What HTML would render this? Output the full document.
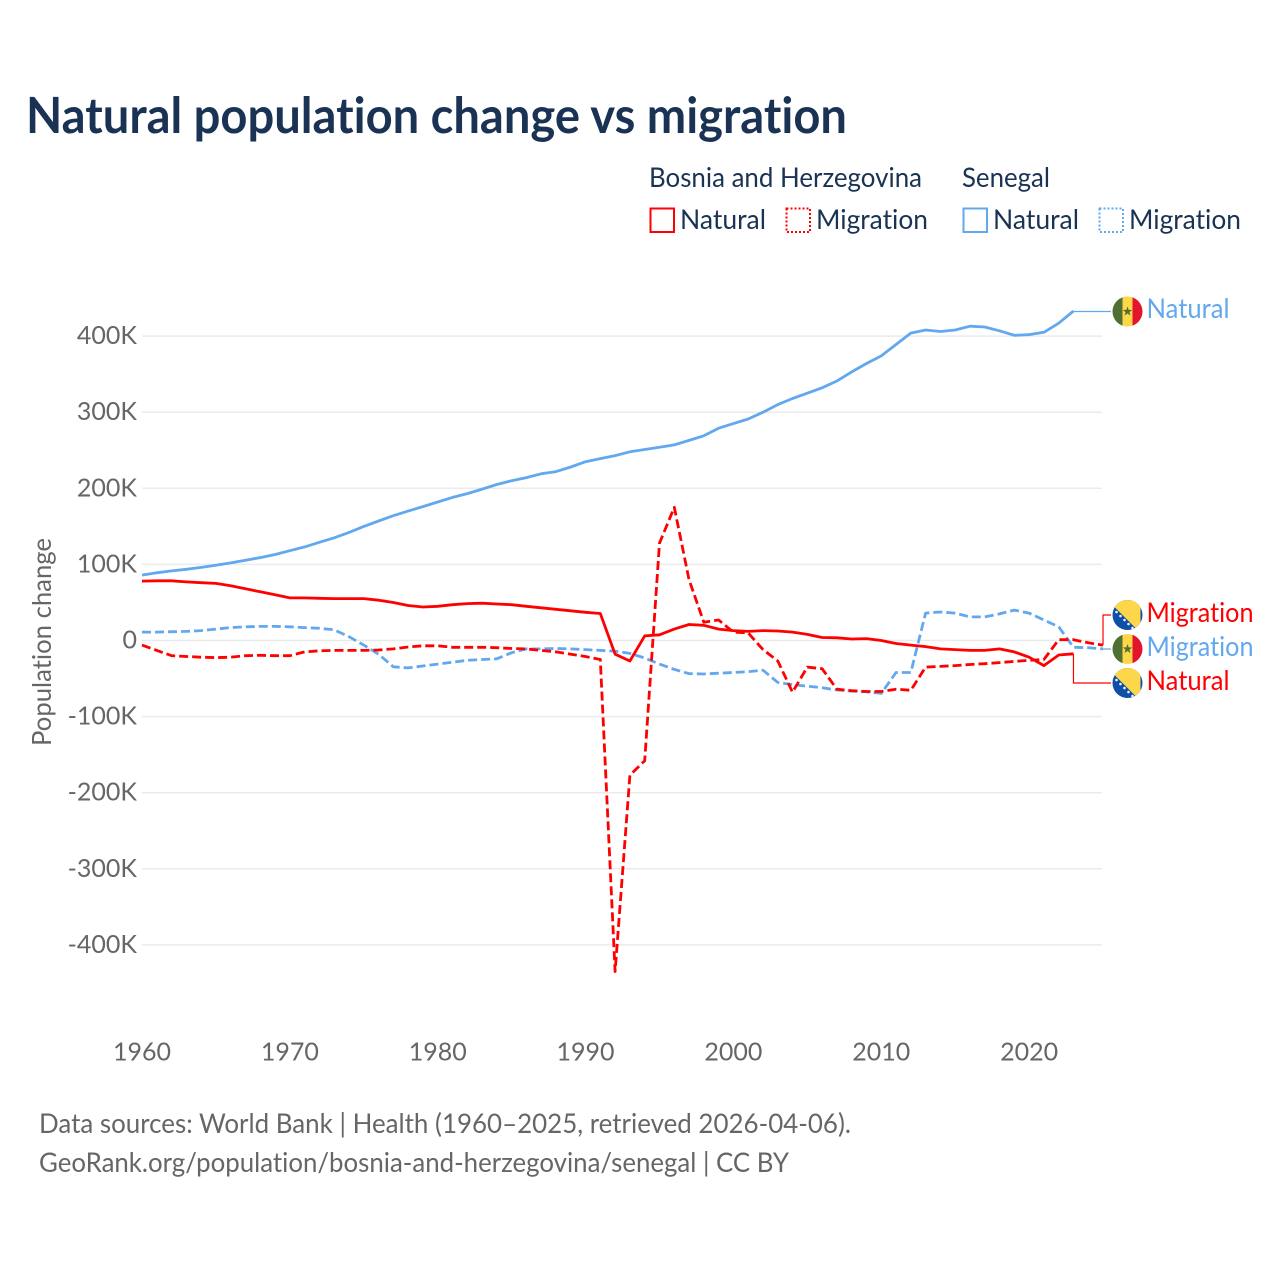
<!DOCTYPE html>
<html lang="en">
<head>
<meta charset="utf-8">
<title>Natural population change vs migration</title>
<style>
html,body{margin:0;padding:0;background:#fff;width:1280px;height:1280px;overflow:hidden}
svg{display:block}
text{font-family:"Lato","Carlito","Liberation Sans",sans-serif;font-variant-ligatures:none}
</style>
</head>
<body>
<svg id="chart" width="1280" height="1280" viewBox="0 0 1280 1280" xmlns="http://www.w3.org/2000/svg">
  <defs>
    <clipPath id="flag-clip"><circle cx="0" cy="0" r="15"/></clipPath>
    <g id="flag-sn" clip-path="url(#flag-clip)">
      <rect x="-15" y="-15" width="10" height="30" fill="#4f7030"/>
      <rect x="-5" y="-15" width="10" height="30" fill="#fdd64a"/>
      <rect x="5" y="-15" width="10" height="30" fill="#e3142d"/>
      <polygon points="0,-5 1.2,-1.6 4.8,-1.5 1.9,0.6 3,4 0,2 -3,4 -1.9,0.6 -4.8,-1.5 -1.2,-1.6" fill="#4f7030"/>
    </g>
    <g id="flag-ba" clip-path="url(#flag-clip)">
      <rect x="-15" y="-15" width="30" height="30" fill="#0f4fa8"/>
      <polygon points="-20,-15 13,-15 13,18" fill="#fdd64a"/>
      <g fill="#f2f2f2">
        <circle cx="-11" cy="-3" r="1.3"/><circle cx="-7" cy="1" r="1.3"/><circle cx="-3" cy="5" r="1.3"/>
        <circle cx="1" cy="9" r="1.3"/><circle cx="5" cy="13" r="1.3"/>
      </g>
    </g>
  </defs>

  <text x="26" y="133" font-size="49.5" font-weight="700" fill="#1a3354" textLength="821" lengthAdjust="spacingAndGlyphs">Natural population change vs migration</text>

  <g fill="#1a3354">
    <text x="649" y="187" font-size="27.5" fill="#1a3354" textLength="273" lengthAdjust="spacingAndGlyphs">Bosnia and Herzegovina</text>
    <text x="962" y="187" font-size="27.5" fill="#1a3354" textLength="88" lengthAdjust="spacingAndGlyphs">Senegal</text>

    <rect x="650.5" y="208.5" width="23.5" height="23.5" fill="none" stroke="#ff0000" stroke-width="2"/>
    <text x="680" y="229" font-size="27.5" fill="#1a3354" textLength="86" lengthAdjust="spacingAndGlyphs">Natural</text>
    <rect x="786.5" y="208.5" width="23.5" height="23.5" fill="none" stroke="#ff0000" stroke-width="2" stroke-dasharray="2 2"/>
    <text x="816" y="229" font-size="27.5" fill="#1a3354" textLength="112" lengthAdjust="spacingAndGlyphs">Migration</text>

    <rect x="963.5" y="208.5" width="23.5" height="23.5" fill="none" stroke="#62a8ee" stroke-width="2"/>
    <text x="993" y="229" font-size="27.5" fill="#1a3354" textLength="86" lengthAdjust="spacingAndGlyphs">Natural</text>
    <rect x="1099.5" y="208.5" width="23.5" height="23.5" fill="none" stroke="#62a8ee" stroke-width="2" stroke-dasharray="2 2"/>
    <text x="1129" y="229" font-size="27.5" fill="#1a3354" textLength="112" lengthAdjust="spacingAndGlyphs">Migration</text>
  </g>

  <g id="grid"></g>
  <g id="y-ticks"></g>
  <g id="x-ticks"></g>
  <text transform="translate(51,642) rotate(-90)" text-anchor="middle" font-size="26" fill="#666666" textLength="208" lengthAdjust="spacingAndGlyphs">Population change</text>

  <g id="connectors"></g>
  <g id="series"></g>

  <g>
    <use href="#flag-sn" x="1127.5" y="311.5"/>
    <text x="1146.5" y="318" font-size="27.5" fill="#62a8ee" textLength="83" lengthAdjust="spacingAndGlyphs">Natural</text>
    <use href="#flag-ba" x="1127.5" y="615"/>
    <text x="1146.5" y="622" font-size="27.5" fill="#ff0000" textLength="107" lengthAdjust="spacingAndGlyphs">Migration</text>
    <use href="#flag-sn" x="1127.5" y="649"/>
    <text x="1146.5" y="656" font-size="27.5" fill="#62a8ee" textLength="107" lengthAdjust="spacingAndGlyphs">Migration</text>
    <use href="#flag-ba" x="1127.5" y="683"/>
    <text x="1146.5" y="690" font-size="27.5" fill="#ff0000" textLength="83" lengthAdjust="spacingAndGlyphs">Natural</text>
  </g>

  <text x="39" y="1133" font-size="27.5" fill="#666666" textLength="812" lengthAdjust="spacingAndGlyphs">Data sources: World Bank | Health (1960–2025, retrieved 2026-04-06).</text>
  <text x="39" y="1172" font-size="27.5" fill="#666666" textLength="750" lengthAdjust="spacingAndGlyphs">GeoRank.org/population/bosnia-and-herzegovina/senegal | CC BY</text>
</svg>

<script>
const startYear = 1960;
const xTickYears = [1960, 1970, 1980, 1990, 2000, 2010, 2020];
const yTickValues = [400, 300, 200, 100, 0, -100, -200, -300, -400];
const yTickLabels = ["400K", "300K", "200K", "100K", "0", "-100K", "-200K", "-300K", "-400K"];

// Values in thousands, one per year starting 1960
const senegalNatural = [86,89,91.5,93.5,96,99,102,105.5,109,113,118,123,129,135,142,150,157,164,170,176,182,188,193,199,205,210,214,219,222,228,235,239,243,248,251,254,257,263,269,279,285,291,300,310,318,325,332,341,353,364,374,389,404,408,406,408,413,412,407,401,402,405,417,433];
const bosniaNatural = [78,78.5,78.5,77,76,75,72,68,64,60,56,56,55.5,55,55,55,53,50,46,44,45,47,48.5,49,48,47,45,43,41,39,37,35.5,-18,-27,6,7.5,15,21,20,15,13,12,13,12.5,11,8,4,3.5,2,2.5,0,-4,-6,-8,-11,-12,-13,-13,-11,-15,-22,-33,-19,-17.5];
const bosniaMigration = [-6,-13,-20,-21,-22,-22.5,-22,-20,-19.5,-20,-20,-15,-13.5,-13,-13,-13,-12.5,-11,-8.5,-7,-7,-9,-9,-9,-9.5,-10.5,-11,-13,-15,-18,-21,-25,-435,-177,-158,128,175,80,24,27,11,10,-12,-27,-68,-35,-37,-64,-66,-67,-67,-64,-65.5,-35,-34,-33,-31.5,-30.5,-29,-27.5,-26,-25,1,1,-3,-6];
const senegalMigration = [11,11,11.5,12,13,15,17,18,18.5,18.5,18,17,16,14,5,-6,-18,-34.5,-36,-33.5,-31,-28.5,-26,-25,-24,-16,-11,-11,-10.5,-11,-12,-13,-14,-17,-23,-31,-38,-43.5,-44,-43,-42,-41,-39,-55,-58,-60,-62,-65,-66.5,-67.5,-69.5,-42,-42,36,37.5,36,31,31,35,40,36,27,18,-9,-9.5,-11];

const SVG_NS = "http://www.w3.org/2000/svg";
const RED = "#ff0000";
const BLUE = "#62a8ee";

function xScale(year) { return 142 + (year - 1960) * 14.785; }
function yScale(value) { return 640.5 - value * 0.761; }

function make(tag, parent, attrs) {
  const el = document.createElementNS(SVG_NS, tag);
  for (const k in attrs) el.setAttribute(k, attrs[k]);
  parent.appendChild(el);
  return el;
}

const grid = document.getElementById("grid");
const yTicks = document.getElementById("y-ticks");
const xTicks = document.getElementById("x-ticks");
const seriesLayer = document.getElementById("series");
const connectors = document.getElementById("connectors");

yTickValues.forEach(function (v, i) {
  const line = make("line", grid, { x1: 142, x2: 1102, y1: yScale(v), y2: yScale(v), stroke: "#ebebeb", "stroke-width": 1.5 });
  
  
  const label = make("text", yTicks, { x: 137, y: yScale(v) + 8, "text-anchor": "end", "font-size": 25, fill: "#666666" });
  
  
  label.textContent = yTickLabels[i];
});

xTickYears.forEach(function (yr) {
  const label = make("text", xTicks, { x: xScale(yr), y: 1060.5, "text-anchor": "middle", "font-size": 25, fill: "#666666" });
  
  
  label.textContent = String(yr);
});

function pointsOf(values) {
  return values.map(function (v, i) {
    return xScale(startYear + i).toFixed(1) + "," + yScale(v).toFixed(1);
  }).join(" ");
}

function lastPoint(values) {
  const i = values.length - 1;
  return [xScale(startYear + i), yScale(values[i])];
}

function drawConnector(values, color, labelY, name) {
  const p = lastPoint(values);
  const c = make("polyline", connectors, {
    points: p[0] + "," + p[1] + " " + p[0] + "," + labelY + " 1111," + labelY,
    fill: "none", stroke: color, "stroke-width": 1.2
  });
  
  
}

drawConnector(senegalNatural, BLUE, 311.5, 'connector-senegal-natural');
drawConnector(bosniaMigration, RED, 615, 'connector-bosnia-migration');
drawConnector(senegalMigration, BLUE, 649, 'connector-senegal-migration');
drawConnector(bosniaNatural, RED, 683, 'connector-bosnia-natural');

const migSenegal = make("polyline", seriesLayer, { points: pointsOf(senegalMigration), fill: "none", stroke: BLUE, "stroke-width": 2.8, "stroke-dasharray": "9 4", "stroke-linejoin": "round" });



const natSenegal = make("polyline", seriesLayer, { points: pointsOf(senegalNatural), fill: "none", stroke: BLUE, "stroke-width": 2.8, "stroke-linejoin": "round" });



const migBosnia = make("polyline", seriesLayer, { points: pointsOf(bosniaMigration), fill: "none", stroke: RED, "stroke-width": 2.8, "stroke-dasharray": "9 4", "stroke-linejoin": "round" });



const natBosnia = make("polyline", seriesLayer, { points: pointsOf(bosniaNatural), fill: "none", stroke: RED, "stroke-width": 2.8, "stroke-linejoin": "round" });


</script>
</body>
</html>
